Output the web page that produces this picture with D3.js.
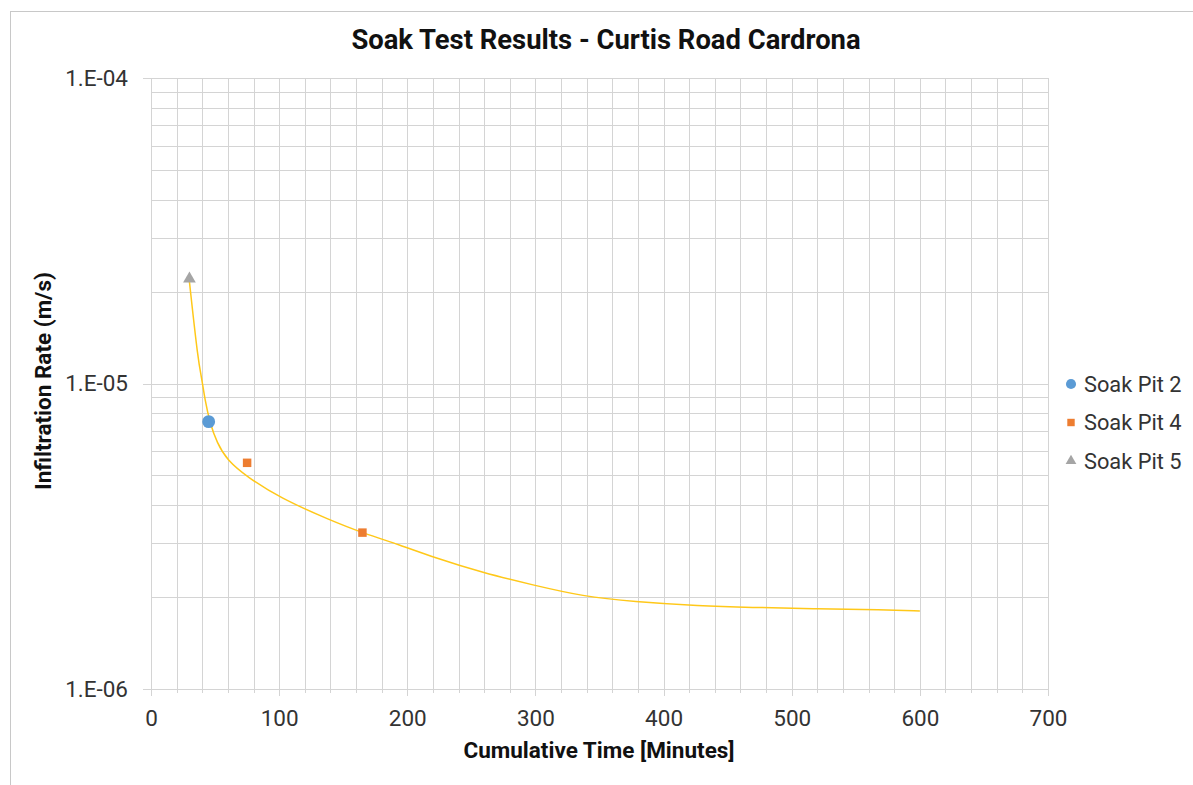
<!DOCTYPE html>
<html>
<head>
<meta charset="utf-8">
<script src="https://cdn.jsdelivr.net/npm/d3@7"></script>
<style>
  body { margin: 0; background: #fff; }
  svg { font-family: Roboto, "Noto Sans", sans-serif; }
</style>
</head>
<body>
<svg id="chart" width="1193" height="785"></svg>
<script>
// series
const pit2Time = [45];
const pit2Rate = [7.5e-6];
const pit4Time = [75, 165];
const pit4Rate = [5.5e-6, 3.25e-6];
const pit5Time = [30];
const pit5Rate = [2.2e-5];

// fitted curve (yellow)
const trendTime = [30, 36.7, 39.8, 42.1, 46, 51.5, 59.3, 74.9, 100.7, 139.7, 165.4, 194.3, 220.1, 259.1, 298.1, 337.1, 376.2, 428.4, 467.5, 519.7, 571.2, 600];
const trendRate = [2.15e-5, 1.19e-5, 1.03e-5, 8.83e-6, 7.43e-6, 6.39e-6, 5.62e-6, 4.95e-6, 4.22e-6, 3.57e-6, 3.24e-6, 2.96e-6, 2.7e-6, 2.4e-6, 2.19e-6, 2.01e-6, 1.93e-6, 1.87e-6, 1.85e-6, 1.83e-6, 1.82e-6, 1.8e-6];

const xTicks = [0, 100, 200, 300, 400, 500, 600, 700];
const yTicks = [1e-6, 1e-5, 1e-4];
const legendNames = ['Soak Pit 2', 'Soak Pit 4', 'Soak Pit 5'];

const COLORS = { pit2: '#5b9bd5', pit4: '#ed7d31', pit5: '#a5a5a5', trend: '#ffc819' };
const GRID = '#d4d4d4';
const TEXT = '#333333';

const plot = { left: 151, right: 1048, top: 78, bottom: 689 };

const svg = d3.select('#chart');

// outer chart border
svg.append('rect')
  .attr('x', 10.5).attr('y', 11.5)
  .attr('width', 1190).attr('height', 790)
  .attr('fill', 'none')
  .attr('stroke', '#c8c8c8');

const x = d3.scaleLinear().domain([0, 700]).range([plot.left, plot.right]);
const y = d3.scaleLog().domain([1e-6, 1e-4]).range([plot.bottom, plot.top]);

const g = svg.append('g');

// vertical grid every 20 minutes
const xMinor = d3.range(0, 701, 20);
g.append('g')
  .selectAll('line')
  .data(xMinor)
  .join('line')
  .attr('x1', (d) => Math.round(x(d)) + 0.5)
  .attr('x2', (d) => Math.round(x(d)) + 0.5)
  .attr('y1', plot.top)
  .attr('y2', (d) => plot.bottom + (d % 100 === 0 ? 7 : 4))
  .attr('stroke', GRID);

// horizontal grid on log minors
const yMinor = [];
[1e-6, 1e-5].forEach((base) => {
  for (let k = 1; k <= 10; k++) yMinor.push(base * k);
});
g.append('g')
  .selectAll('line')
  .data(yMinor)
  .join('line')
  .attr('x1', plot.left)
  .attr('x2', plot.right)
  .attr('y1', (d) => Math.round(y(d)) + 0.5)
  .attr('y2', (d) => Math.round(y(d)) + 0.5)
  .attr('stroke', GRID);

// major tick stubs on the left
g.append('g')
  .selectAll('line')
  .data(yTicks)
  .join('line')
  .attr('x1', plot.left - 8)
  .attr('x2', plot.left)
  .attr('y1', (d) => Math.round(y(d)) + 0.5)
  .attr('y2', (d) => Math.round(y(d)) + 0.5)
  .attr('stroke', GRID);

// axes (labels only, lines come from the grid)
const xAxis = g.append('g')
  .attr('transform', `translate(0,${plot.bottom})`)
  .call(d3.axisBottom(x).tickValues(xTicks).tickSize(0).tickPadding(21));
xAxis.select('.domain').remove();
xAxis.selectAll('text')
  .attr('font-size', 22.5).attr('fill', TEXT)
  .attr('font-family', 'Roboto, sans-serif');

const yAxis = g.append('g')
  .attr('transform', `translate(${plot.left},0)`)
  .call(d3.axisLeft(y).tickValues(yTicks).tickSize(0).tickPadding(23)
    .tickFormat((d) => '1.E' + (Math.log10(d) < 0 ? '-' : '+') + String(Math.abs(Math.round(Math.log10(d)))).padStart(2, '0')));
yAxis.select('.domain').remove();
yAxis.selectAll('text')
  .attr('font-size', 22.5).attr('fill', TEXT)
  .attr('font-family', 'Roboto, sans-serif');

// trend curve, smoothed like the spreadsheet's line
const trend = trendTime.map((t, i) => [t, trendRate[i]]);
g.append('path')
  .datum(trend)
  .attr('fill', 'none')
  .attr('stroke', COLORS.trend)
  .attr('stroke-width', 1.5)
  .attr('d', d3.line().x((d) => x(d[0])).y((d) => y(d[1])).curve(d3.curveBasis));

// markers
const sym = {
  pit2: d3.symbol().type(d3.symbolCircle).size(130),
  pit4: d3.symbol().type(d3.symbolSquare).size(72),
  pit5: d3.symbol().type(d3.symbolTriangle).size(70),
};
const series = [
  { key: 'pit2', time: pit2Time, rate: pit2Rate },
  { key: 'pit4', time: pit4Time, rate: pit4Rate },
  { key: 'pit5', time: pit5Time, rate: pit5Rate },
];
series.forEach((s) => {
  g.append('g')
    .selectAll('path')
    .data(s.time.map((t, i) => [t, s.rate[i]]))
    .join('path')
    .attr('transform', (d) => `translate(${x(d[0])},${y(d[1])})`)
    .attr('d', sym[s.key]())
    .attr('fill', COLORS[s.key]);
});

// titles
svg.append('text')
  .attr('x', 606).attr('y', 49)
  .attr('text-anchor', 'middle')
  .attr('font-size', 27.4).attr('font-weight', 'bold').attr('fill', '#111')
  .text('Soak Test Results - Curtis Road Cardrona');

svg.append('text')
  .attr('x', 599).attr('y', 758)
  .attr('text-anchor', 'middle')
  .attr('font-size', 22.5).attr('font-weight', 'bold').attr('fill', '#111')
  .text('Cumulative Time [Minutes]');

svg.append('text')
  .attr('transform', 'translate(51,381) rotate(-90)')
  .attr('text-anchor', 'middle')
  .attr('font-size', 22.5).attr('font-weight', 'bold').attr('fill', '#111')
  .text('Infiltration Rate (m/s)');

// legend
const legend = svg.append('g').attr('transform', 'translate(1071,384)');
const legendSym = {
  pit2: d3.symbol().type(d3.symbolCircle).size(80),
  pit4: d3.symbol().type(d3.symbolSquare).size(55),
  pit5: d3.symbol().type(d3.symbolTriangle).size(50),
};
series.forEach((s, i) => {
  const row = legend.append('g').attr('transform', `translate(0,${i * 38.5})`);
  row.append('path').attr('d', legendSym[s.key]()).attr('fill', COLORS[s.key]);
  row.append('text')
    .attr('x', 13).attr('y', 7.5)
    .attr('font-size', 21.8).attr('fill', TEXT)
    .text(legendNames[i]);
});
</script>
</body>
</html>
